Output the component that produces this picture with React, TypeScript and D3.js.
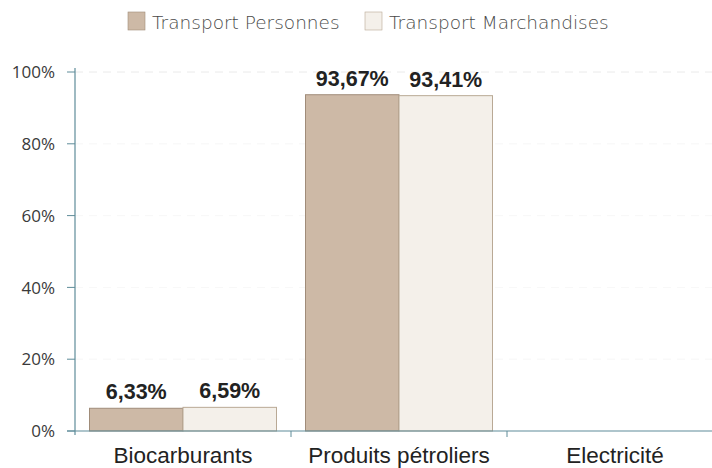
import * as d3 from "d3";

const categories = ["Biocarburants", "Produits pétroliers", "Electricité"];
const seriesNames = ["Transport Personnes", "Transport Marchandises"];
const personnes = [6.33, 93.67, 0];
const marchandises = [6.59, 93.41, 0];
const yTicks = [0, 20, 40, 60, 80, 100];

const fills = ["#cdb9a6", "#f4f0ea"];
const strokes = ["#a08c79", "#b9a995"];

const width = 712;
const height = 468;
const MARGIN = { top: 72, right: -11, bottom: 37, left: 75 };

const App = () => {
  const boundsWidth = width - MARGIN.left - MARGIN.right;
  const boundsHeight = height - MARGIN.top - MARGIN.bottom;

  const x0 = d3.scaleBand().domain(categories).range([0, boundsWidth]);
  const x1 = d3
    .scaleBand()
    .domain(seriesNames)
    .range([14.5, x0.bandwidth() - 14.5]);
  const y = d3.scaleLinear().domain([0, 100]).range([boundsHeight, 0]);

  const series = [personnes, marchandises];
  const fmt = (v: number) => v.toFixed(2).replace(".", ",") + "%";

  return (
    <svg
      width={width}
      height={height}
      style={{ position: "absolute", left: 0, top: 0, background: "#fff" }}
    >
      {/* legend */}
      <g fontFamily="'DejaVu Sans', sans-serif" fontSize={18.5}>
        {seriesNames.map((s, i) => {
          const lx = i === 0 ? 128 : 365;
          return (
            <g key={s}>
              <rect x={lx} y={12} width={17} height={18} fill={fills[i]} stroke={strokes[i]} strokeWidth={0.6} />
              <text x={lx + 24} y={29} style={{ fontWeight: 200 }} fill="#4a4a4a">
                {s}
              </text>
            </g>
          );
        })}
      </g>
      <g transform={`translate(${MARGIN.left},${MARGIN.top})`}>
        {/* grid */}
        {yTicks.slice(1).map((t) => (
          <line
            key={t}
            x1={0}
            x2={boundsWidth}
            y1={y(t)}
            y2={y(t)}
            stroke="#e4e4e4"
            strokeDasharray="8 6"
            strokeWidth={0.8}
            opacity={t === 100 ? 1 : 0.35}
          />
        ))}
        {/* bars */}
        {categories.map((c, ci) => (
          <g key={c} transform={`translate(${x0(c)},0)`}>
            {seriesNames.map((s, si) => {
              const v = series[si][ci];
              if (!v) return null;
              return (
                <g key={s}>
                  <rect
                    x={x1(s)}
                    y={y(v)}
                    width={x1.bandwidth()}
                    height={y(0) - y(v)}
                    fill={fills[si]}
                    stroke={strokes[si]}
                    strokeWidth={1}
                  />
                  <text
                    x={(x1(s) as number) + x1.bandwidth() / 2}
                    y={y(v) - 9}
                    textAnchor="middle"
                    fontFamily="'Liberation Sans', Arial, sans-serif"
                    fontWeight="bold"
                    fontSize={21.5}
                    fill="#222"
                  >
                    {fmt(v)}
                  </text>
                </g>
              );
            })}
          </g>
        ))}
        {/* y axis */}
        <line x1={0} x2={0} y1={-4} y2={boundsHeight + 4} stroke="#5e8c99" strokeWidth={1.2} />
        {yTicks.map((t) => (
          <g key={t}>
            <line x1={-8} x2={0} y1={y(t)} y2={y(t)} stroke="#5e8c99" />
            <text
              x={-20}
              y={y(t)}
              dy="0.36em"
              textAnchor="end"
              fontFamily="'Open Sans', sans-serif"
              fontSize={17}
              fill="#3a3a3a"
            >
              {t}%
            </text>
          </g>
        ))}
        {/* x axis */}
        <line x1={-8} x2={boundsWidth} y1={boundsHeight} y2={boundsHeight} stroke="#5e8c99" strokeWidth={1.2} />
        {categories.map((c) => (
          <g key={c}>
            <line
              x1={(x0(c) as number) + x0.bandwidth()}
              x2={(x0(c) as number) + x0.bandwidth()}
              y1={boundsHeight}
              y2={boundsHeight + 6}
              stroke="#5e8c99"
            />
            <text
              x={(x0(c) as number) + x0.bandwidth() / 2}
              y={boundsHeight + 32}
              textAnchor="middle"
              fontFamily="'Liberation Sans', Arial, sans-serif"
              fontSize={22.5}
              fill="#222"
            >
              {c}
            </text>
          </g>
        ))}
      </g>
    </svg>
  );
};

export default App;
